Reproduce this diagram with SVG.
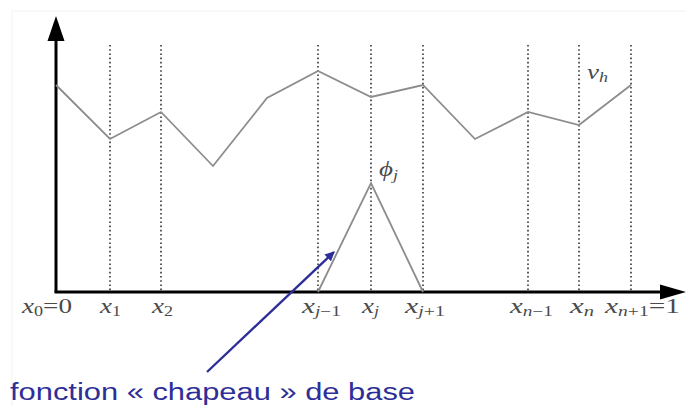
<svg xmlns="http://www.w3.org/2000/svg" width="686" height="406" viewBox="0 0 686 406">
<style>
.axis{stroke:#000;stroke-width:3;fill:none}
.grid{stroke:#4a4a4a;stroke-width:1.8;stroke-dasharray:1.6 2.6;fill:none}
.curve{stroke:#8c8c8c;stroke-width:1.8;fill:none;stroke-linejoin:miter}
.lbl{font-family:"Liberation Serif","DejaVu Serif",serif;font-style:italic;font-size:21px;fill:#4a4a4a}
.up{font-style:normal}
.sub{font-size:14px}
.cap{font-family:"Liberation Sans",Arial,sans-serif;font-size:23px;fill:#2e2e98}
</style>
<defs>
<marker id="blueHead" viewBox="0 0 10 10" refX="9" refY="5" markerWidth="4" markerHeight="4" orient="auto" markerUnits="strokeWidth">
<path d="M0,0 L10,5 L0,10 z" fill="#2e2e98"/>
</marker>
</defs>
<rect width="686" height="406" fill="#fff"/>
<g id="frame"><path d="M12,406 V11 H686" stroke="#f2f2f2" stroke-width="1" fill="none"/></g>
<g id="axes">
<line class="axis" x1="56" y1="292" x2="56" y2="38"/>
<path d="M56,16 L47.5,41 L64.5,41 z" fill="#000"/>
<line class="axis" x1="54.5" y1="292" x2="662" y2="292"/>
<path d="M686,292 L660,284.5 L660,299.5 z" fill="#000"/>
</g>
<g id="gridlines">
<line class="grid" x1="110" y1="45" x2="110" y2="291"/>
<line class="grid" x1="161" y1="45" x2="161" y2="291"/>
<line class="grid" x1="318" y1="45" x2="318" y2="291"/>
<line class="grid" x1="371" y1="45" x2="371" y2="291"/>
<line class="grid" x1="423" y1="45" x2="423" y2="291"/>
<line class="grid" x1="528" y1="45" x2="528" y2="291"/>
<line class="grid" x1="579" y1="45" x2="579" y2="291"/>
<line class="grid" x1="631" y1="45" x2="631" y2="291"/>
</g>
<g id="vh">
<polyline class="curve" points="56,85 110,139 161,112 213,166 267,98 318,71 371,97 423,85 475,139 528,112 579,125 631,85"/>
<text class="lbl" x="587" y="79" textLength="21" lengthAdjust="spacingAndGlyphs">v<tspan class="sub" dy="3">h</tspan></text>
</g>
<g id="phij">
<polyline class="curve" points="318,292 371,183 423,292"/>
<text class="lbl" x="379" y="176" textLength="19" lengthAdjust="spacingAndGlyphs">ϕ<tspan class="sub" dy="4">j</tspan></text>
</g>
<g id="labels">
<text class="lbl" x="22" y="313" textLength="50" lengthAdjust="spacingAndGlyphs">x<tspan class="sub up" dy="3">0</tspan><tspan class="up" dy="-3">=0</tspan></text>
<text class="lbl" x="100" y="313" textLength="21" lengthAdjust="spacingAndGlyphs">x<tspan class="sub up" dy="3">1</tspan></text>
<text class="lbl" x="152" y="313" textLength="21" lengthAdjust="spacingAndGlyphs">x<tspan class="sub up" dy="3">2</tspan></text>
<text class="lbl" x="302" y="313" textLength="39" lengthAdjust="spacingAndGlyphs">x<tspan class="sub" dy="3">j</tspan><tspan class="sub up">−1</tspan></text>
<text class="lbl" x="362" y="313" textLength="17" lengthAdjust="spacingAndGlyphs">x<tspan class="sub" dy="3">j</tspan></text>
<text class="lbl" x="405" y="313" textLength="40" lengthAdjust="spacingAndGlyphs">x<tspan class="sub" dy="3">j</tspan><tspan class="sub up">+1</tspan></text>
<text class="lbl" x="510" y="313" textLength="43" lengthAdjust="spacingAndGlyphs">x<tspan class="sub" dy="3">n</tspan><tspan class="sub up">−1</tspan></text>
<text class="lbl" x="570" y="313" textLength="24" lengthAdjust="spacingAndGlyphs">x<tspan class="sub" dy="3">n</tspan></text>
<text class="lbl" x="605" y="313" textLength="75" lengthAdjust="spacingAndGlyphs">x<tspan class="sub" dy="3">n</tspan><tspan class="sub up">+1</tspan><tspan class="up" dy="-3">=1</tspan></text>
</g>
<g id="connectors">
<line x1="207" y1="372" x2="334" y2="252" stroke="#2e2e98" stroke-width="2.4" marker-end="url(#blueHead)"/>
</g>
<g id="caption">
<text class="cap" x="10" y="400" textLength="405" lengthAdjust="spacingAndGlyphs">fonction « chapeau » de base</text>
</g>
</svg>
